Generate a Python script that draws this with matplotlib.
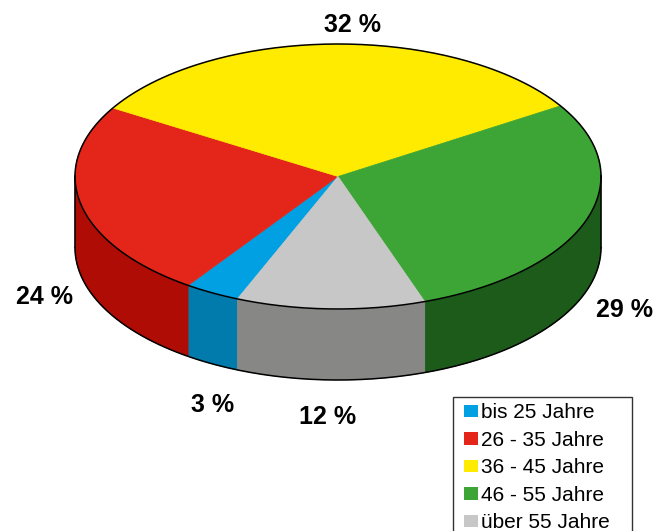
import numpy as np
import matplotlib
matplotlib.use("Agg")
import matplotlib.pyplot as plt
from matplotlib.patches import Polygon, Patch, Rectangle
from matplotlib.legend_handler import HandlerPatch

plt.rcParams['font.family'] = ['Liberation Sans', 'DejaVu Sans']

categories = ["bis 25 Jahre", "26 - 35 Jahre", "36 - 45 Jahre", "46 - 55 Jahre", "über 55 Jahre"]
values = [3.4, 24.0, 32.4, 28.6, 11.6]
labels = ["3 %", "24 %", "32 %", "29 %", "12 %"]
top_colors = ["#00A0E3", "#E32619", "#FFEB00", "#3DA535", "#C6C7C6"]
side_colors = ["#007BAB", "#AE0C04", "#C8B800", "#1D5B1A", "#878785"]
label_pos = [(213, 405), (45, 297), (353, 25), (625, 310), (328, 417)]

W, H = 671, 531
fig = plt.figure(figsize=(W / 100, H / 100), dpi=100)
ax = fig.add_axes([0, 0, 1, 1])
ax.set_xlim(0, W)
ax.set_ylim(H, 0)
ax.axis('off')

cx, cy = 338.0, 176.5
a, b = 263.0, 132.5
depth = 71.0
start = -112.5  # parametric start angle, clockwise

def pt(t, dz=0.0):
    r = np.radians(t)
    return cx + a * np.cos(r), cy - b * np.sin(r) + dz

total = float(sum(values))
angles = []
cur = start
for v in values:
    span = 360.0 * v / total
    angles.append((cur, cur - span))
    cur -= span

# sides (front half)
for (t1, t2), col in zip(angles, side_colors):
    lo, hi = min(t1, t2), max(t1, t2)
    for k in range(-2, 2):
        base = 360 * k
        s_lo = max(lo, base - 180)
        s_hi = min(hi, base)
        if s_hi > s_lo:
            ts = np.linspace(s_lo, s_hi, 120)
            top = [pt(t) for t in ts]
            bot = [pt(t, depth) for t in ts[::-1]]
            ax.add_patch(Polygon(top + bot, closed=True, facecolor=col,
                                 edgecolor=col, linewidth=0.5, zorder=1))

# top wedges
handles = []
for (t1, t2), col, cat in zip(angles, top_colors, categories):
    ts = np.linspace(t1, t2, 200)
    verts = [(cx, cy)] + [pt(t) for t in ts]
    ax.add_patch(Polygon(verts, closed=True, facecolor=col, edgecolor=col,
                         linewidth=0.5, zorder=2))
    handles.append(Patch(facecolor=col, edgecolor='none', label=cat))

# outlines
ts = np.linspace(0, 360, 400)
ex = [pt(t) for t in ts]
ax.plot([p[0] for p in ex], [p[1] for p in ex], color='black', lw=1.1, zorder=3)
tb = np.linspace(-180, 0, 200)
eb = [pt(t, depth) for t in tb]
ax.plot([p[0] for p in eb], [p[1] for p in eb], color='black', lw=1.1, zorder=3)
for t in (180, 0):
    x0, y0 = pt(t)
    ax.plot([x0, x0], [y0, y0 + depth], color='black', lw=1.1, zorder=3)

for lab, (x, y) in zip(labels, label_pos):
    ax.text(x, y, lab, ha='center', va='center', fontsize=18, fontweight='bold', zorder=4)


def square_patch(legend, orig_handle, xdescent, ydescent, width, height, fontsize):
    s_w = 14 * 72 / 100.0
    s_h = 12.5 * 72 / 100.0
    return Rectangle((width - s_w - xdescent, (height - s_h) / 2 - ydescent), s_w, s_h)


fs = 15
leg_w = (632 - 453) / W
leg_h = 0.3
leg = ax.legend(handles=handles, loc='upper left',
                bbox_to_anchor=(453 / W, 1 - 397 / H - leg_h, leg_w, leg_h),
                bbox_transform=fig.transFigure, mode='expand',
                fontsize=fs, frameon=True, fancybox=False, shadow=False,
                handlelength=0.91, handleheight=0.7, handletextpad=0.15,
                labelspacing=0.41, borderpad=0.3, borderaxespad=0,
                handler_map={Patch: HandlerPatch(patch_func=square_patch)})
leg.get_frame().set_edgecolor('black')
leg.get_frame().set_linewidth(1.0)

fig.savefig("out.png", dpi=100)
